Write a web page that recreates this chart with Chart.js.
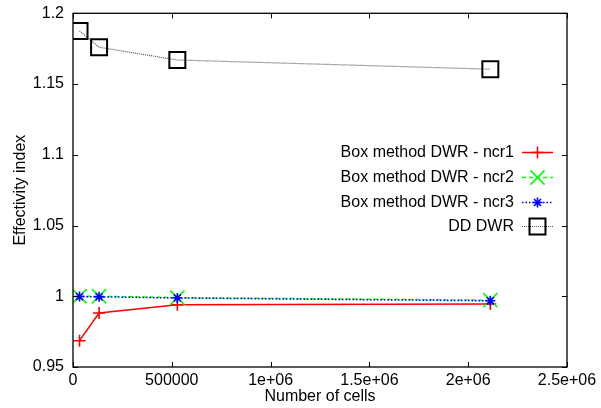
<!DOCTYPE html>
<html>
<head>
<meta charset="utf-8">
<script src="https://cdn.jsdelivr.net/npm/chart.js@4/dist/chart.umd.min.js"></script>
<style>
  html, body { margin: 0; padding: 0; background: #fff; }
  #wrap { width: 601px; height: 408px; }
</style>
</head>
<body>
<div id="wrap"><canvas id="c" width="601" height="408"></canvas></div>
<script>
// ---- data ----
const cells = [33000, 132000, 528000, 2112000];
const ncr1 = [0.9686, 0.9882, 0.9940, 0.9945];
const ncr2 = [1.0000, 1.0000, 0.9990, 0.9972];
const ncr3 = [0.9998, 0.9996, 0.9988, 0.9968];
const ddDwr = [1.1875, 1.1760, 1.1670, 1.1605];
const seriesNames = ['Box method DWR - ncr1', 'Box method DWR - ncr2', 'Box method DWR - ncr3', 'DD DWR'];
const xTickLabels = ['0', '500000', '1e+06', '1.5e+06', '2e+06', '2.5e+06'];
const yTickLabels = ['0.95', '1', '1.05', '1.1', '1.15', '1.2'];
const xAxisTitle = 'Number of cells';
const yAxisTitle = 'Effectivity index';

const FONT = "'Liberation Sans', Arial, Helvetica, sans-serif";
const pts = ys => cells.map((x, i) => ({ x: x, y: ys[i] }));

const styles = [
  { color: '#ff0000', dash: [], width: 1.5, pstyle: 'cross', r: 6, pw: 1.6 },
  { color: '#00ff00', dash: [4, 3], width: 1.5, pstyle: 'crossRot', r: 10, pw: 1.6 },
  { color: '#0000ff', dash: [1.5, 2], width: 1.5, pstyle: 'star', r: 5, pw: 1.6 },
  { color: '#000000', line: '#555555', dash: [1, 1], width: 1.2, pstyle: 'rect', r: 11.3, pw: 2 }
];
const allData = [ncr1, ncr2, ncr3, ddDwr];

const datasets = allData.map((d, i) => {
  const s = styles[i];
  return {
    label: seriesNames[i],
    data: pts(d),
    borderColor: s.line || s.color,
    borderWidth: s.width,
    borderDash: s.dash,
    pointStyle: s.pstyle,
    pointRadius: s.r,
    pointHoverRadius: s.r,
    pointBorderColor: s.color,
    pointBackgroundColor: 'rgba(0,0,0,0)',
    pointBorderWidth: s.pw,
    fill: false,
    tension: 0,
    order: 4 - i
  };
});

const frameAndLegend = {
  id: 'frameAndLegend',
  afterDatasetsDraw(chart) {
    const ctx = chart.ctx;
    const a = chart.chartArea;
    const xs = chart.scales.x, ys = chart.scales.y;
    ctx.save();
    // frame
    ctx.strokeStyle = '#000';
    ctx.lineWidth = 1.3;
    ctx.setLineDash([]);
    ctx.strokeRect(a.left, a.top, a.right - a.left, a.bottom - a.top);
    // inward ticks on all four sides
    const tl = 5;
    ctx.lineWidth = 1;
    ctx.beginPath();
    xs.ticks.forEach(t => {
      const px = Math.round(xs.getPixelForValue(t.value)) + 0.5;
      ctx.moveTo(px, a.bottom); ctx.lineTo(px, a.bottom - tl);
      ctx.moveTo(px, a.top); ctx.lineTo(px, a.top + tl);
    });
    ys.ticks.forEach(t => {
      const py = Math.round(ys.getPixelForValue(t.value)) + 0.5;
      ctx.moveTo(a.left, py); ctx.lineTo(a.left + tl, py);
      ctx.moveTo(a.right, py); ctx.lineTo(a.right - tl, py);
    });
    ctx.stroke();
    // legend
    const textRight = 514, lx0 = 522, lx1 = 553;
    const rowY = [152, 177, 202, 226];
    ctx.font = '16px ' + FONT;
    ctx.textAlign = 'right';
    ctx.textBaseline = 'middle';
    seriesNames.forEach((name, i) => {
      const s = styles[i];
      const y = rowY[i];
      ctx.fillStyle = '#000';
      ctx.fillText(name, textRight, y + 1);
      ctx.beginPath();
      ctx.setLineDash(s.dash);
      ctx.strokeStyle = s.line || s.color;
      ctx.lineWidth = s.width;
      ctx.moveTo(lx0, y + 0.5); ctx.lineTo(lx1, y + 0.5);
      ctx.stroke();
      ctx.setLineDash([]);
      ctx.strokeStyle = s.color;
      ctx.lineWidth = s.pw;
      ctx.fillStyle = 'rgba(0,0,0,0)';
      Chart.helpers.drawPoint(ctx, { pointStyle: s.pstyle, radius: s.r, borderWidth: s.pw, rotation: 0 }, (lx0 + lx1) / 2, y + 0.5);
    });
    ctx.restore();
  }
};

new Chart(document.getElementById('c'), {
  type: 'line',
  data: { datasets: datasets },
  options: {
    responsive: false,
    animation: false,
    events: [],
    layout: { padding: { left: 0, right: 34, top: 13, bottom: 0 } },
    plugins: { legend: { display: false }, tooltip: { enabled: false } },
    scales: {
      x: {
        type: 'linear',
        min: 0, max: 2500000,
        afterFit: s => { s.height = 41; s.paddingLeft = 0; s.paddingRight = 0; },
        grid: { display: false, drawTicks: false },
        border: { display: false },
        ticks: {
          stepSize: 500000,
          autoSkip: false,
          maxRotation: 0,
          padding: 4,
          color: '#000',
          font: { family: FONT, size: 16 },
          callback: (v, i) => xTickLabels[i]
        },
        title: { display: true, text: xAxisTitle, color: '#000', font: { family: FONT, size: 16 }, padding: { top: 0, bottom: 2 } }
      },
      y: {
        type: 'linear',
        min: 0.95, max: 1.2,
        afterFit: s => { s.width = 73; s.paddingTop = 0; s.paddingBottom = 0; },
        grid: { display: false, drawTicks: false },
        border: { display: false },
        ticks: {
          stepSize: 0.05,
          autoSkip: false,
          padding: 9,
          color: '#000',
          font: { family: FONT, size: 16 },
          callback: (v, i) => yTickLabels[i]
        },
        title: { display: true, text: yAxisTitle, color: '#000', font: { family: FONT, size: 16 }, padding: { top: 11, bottom: 0 } }
      }
    }
  },
  plugins: [frameAndLegend]
});
</script>
</body>
</html>
